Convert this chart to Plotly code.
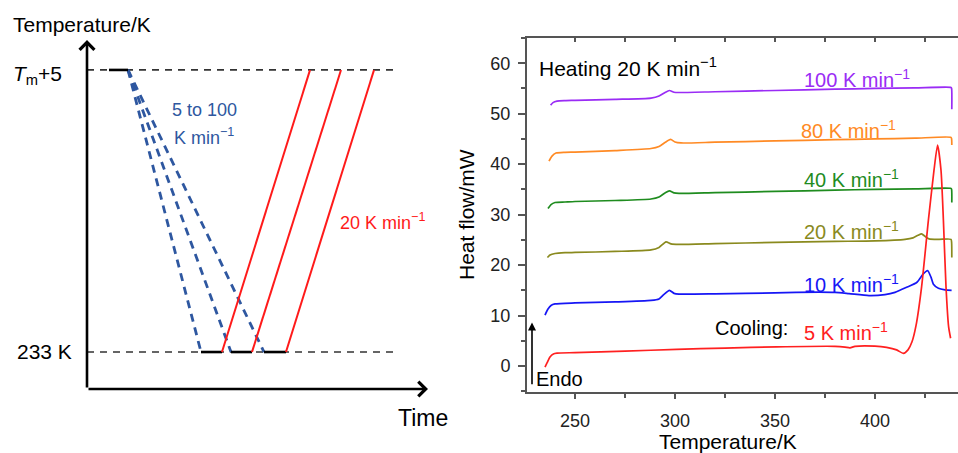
import plotly.graph_objects as go

# ---------------- Left panel: temperature programme (schematic) ----------------
# time in arbitrary units, temperature level: 0 = 233 K, 1 = Tm+5
level_low = 0.0
level_high = 1.0
ref_line_end = 30.7
hold_top = [2.2, 4.1]
cool_end = [11.4, 14.4, 17.7]      # end of cooling ramps (5 to 100 K/min)
hold_end = [13.5, 16.5, 19.9]      # end of isothermal hold at 233 K
heat_end = [22.3, 25.4, 28.7]      # end of heating ramps (20 K/min)
axis_origin = (0.0, -0.131)
axis_time_max = 34.1
axis_temp_max = 1.106

# ---------------- Right panel: DSC heating curves ----------------
T_100 = [237.8, 239, 241, 245, 250, 270, 288, 292, 295, 297.2, 299.5, 302, 320, 350, 380, 400, 420, 438.0, 438.3, 438.4]
HF_100 = [51.7, 52.2, 52.5, 52.6, 52.65, 52.85, 53.1, 53.5, 54.2, 54.6, 54.25, 54.2, 54.35, 54.6, 54.85, 55.0, 55.1, 55.2, 55.0, 50.9]

T_80 = [237.0, 238.5, 240.5, 245, 250, 270, 288, 292, 295, 297.8, 300, 303, 320, 350, 380, 400, 420, 438.0, 438.3, 438.4]
HF_80 = [40.6, 41.6, 42.2, 42.35, 42.4, 42.7, 43.1, 43.5, 44.3, 44.9, 44.4, 44.2, 44.35, 44.6, 44.85, 45.0, 45.15, 45.3, 45.0, 43.8]

T_40 = [236.5, 238, 240, 245, 250, 270, 288, 292, 295, 297.2, 299.5, 302, 320, 350, 380, 400, 420, 438.0, 438.3, 438.4]
HF_40 = [31.2, 32.0, 32.4, 32.5, 32.6, 32.8, 33.1, 33.5, 34.3, 34.7, 34.3, 34.2, 34.35, 34.6, 34.85, 35.0, 35.1, 35.2, 35.0, 32.4]

T_20 = [236.2, 237.5, 240, 245, 250, 270, 288, 292, 295.5, 298, 302, 320, 350, 380, 400, 415, 419, 421.5, 423.3, 425, 427, 432, 438.0, 438.3, 438.4]
HF_20 = [21.5, 22.0, 22.3, 22.45, 22.5, 22.7, 23.0, 23.5, 24.6, 24.2, 24.1, 24.25, 24.5, 24.7, 24.8, 25.1, 25.4, 25.9, 26.2, 25.7, 25.2, 25.1, 25.1, 24.5, 21.5]

T_10 = [235.0, 236.5, 238, 240, 250, 270, 288, 292, 294.5, 297.2, 299.5, 302, 320, 350, 372, 380, 387, 397, 405, 410, 415.8, 421, 424, 426.3, 428, 429.2, 431.7, 435, 438.3]
HF_10 = [10.1, 11.3, 12.0, 12.3, 12.5, 12.7, 13.0, 13.3, 14.2, 15.0, 14.4, 14.25, 14.3, 14.5, 14.65, 14.6, 14.35, 13.95, 14.15, 14.6, 15.6, 16.6, 18.2, 18.9, 17.6, 16.2, 15.4, 15.1, 15.0]

T_5 = [235.0, 236, 237.5, 239.2, 241, 250, 275, 300.8, 325, 350.8, 380, 385, 387.5, 390, 400, 405.8, 410.8, 414.2, 416.5, 418.5, 420.5, 423.3, 426.7, 429.5, 431.3, 433, 434.2, 435.5, 436.8, 437.8]
HF_5 = [-0.2, 0.6, 1.8, 2.4, 2.55, 2.65, 2.95, 3.3, 3.55, 3.8, 3.9, 3.75, 3.6, 3.9, 3.95, 3.7, 3.2, 2.5, 3.2, 4.8, 8.0, 15.7, 28.9, 38.8, 43.8, 38.8, 28.9, 15.7, 7.8, 5.5]

series = [
    ("100", T_100, HF_100, "#9a2cf5"),
    ("80", T_80, HF_80, "#ff8a24"),
    ("40", T_40, HF_40, "#1f8c1f"),
    ("20", T_20, HF_20, "#8a8a1e"),
    ("10", T_10, HF_10, "#1616f5"),
    ("5", T_5, HF_5, "#ff2020"),
]

x_range = [226, 441.5]
y_range = [-5.15, 65.0]
x_ticks = [250, 300, 350, 400]
y_ticks = [0, 10, 20, 30, 40, 50, 60]

FONT = "Liberation Sans, Arial, sans-serif"
W, H = 958, 453
AXC = "#555555"
BLUE_S = "#2e57a0"
RED_S = "#ff1a1a"


def px(x):
    return x / W


def py(y):
    return 1 - y / H


fig = go.Figure()

# ---- left panel traces ----
fig.add_trace(go.Scatter(x=[axis_origin[0], ref_line_end], y=[level_high, level_high], mode="lines",
                         line=dict(color="#333333", width=1.7, dash="7px,6px"),
                         xaxis="x2", yaxis="y2", hoverinfo="skip"))
fig.add_trace(go.Scatter(x=[axis_origin[0], ref_line_end], y=[level_low, level_low], mode="lines",
                         line=dict(color="#333333", width=1.7, dash="7px,6px"),
                         xaxis="x2", yaxis="y2", hoverinfo="skip"))
for ce in cool_end:
    fig.add_trace(go.Scatter(x=[hold_top[1], ce], y=[level_high, level_low], mode="lines",
                             line=dict(color=BLUE_S, width=2.8, dash="8px,6px"),
                             xaxis="x2", yaxis="y2", hoverinfo="skip"))
fig.add_trace(go.Scatter(x=hold_top, y=[level_high, level_high], mode="lines",
                         line=dict(color="black", width=2.6), xaxis="x2", yaxis="y2", hoverinfo="skip"))
for ce, he in zip(cool_end, hold_end):
    fig.add_trace(go.Scatter(x=[ce, he], y=[level_low, level_low], mode="lines",
                             line=dict(color="black", width=2.6), xaxis="x2", yaxis="y2", hoverinfo="skip"))
for he, hte in zip(hold_end, heat_end):
    fig.add_trace(go.Scatter(x=[he, hte], y=[level_low, level_high], mode="lines",
                             line=dict(color=RED_S, width=2.0), xaxis="x2", yaxis="y2", hoverinfo="skip"))

# ---- right panel traces ----
for name, T, HF, col in series:
    fig.add_trace(go.Scatter(x=T, y=HF, mode="lines", name=name + " K/min",
                             line=dict(color=col, width=1.7, shape="spline", smoothing=0.6),
                             xaxis="x", yaxis="y"))
# empty trace to carry the top (inside-ticks) axis
fig.add_trace(go.Scatter(x=[], y=[], xaxis="x3", yaxis="y", showlegend=False))

ann = []
# left-panel axes with open arrowheads
ann.append(dict(x=axis_origin[0], y=axis_temp_max, ax=axis_origin[0], ay=axis_origin[1],
                xref="x2", yref="y2", axref="x2", ayref="y2", text="", showarrow=True,
                arrowhead=4, arrowsize=1.1, arrowwidth=2.6, arrowcolor="black", standoff=0))
ann.append(dict(x=axis_time_max, y=axis_origin[1], ax=axis_origin[0], ay=axis_origin[1],
                xref="x2", yref="y2", axref="x2", ayref="y2", text="", showarrow=True,
                arrowhead=4, arrowsize=1.1, arrowwidth=2.6, arrowcolor="black", standoff=0))


def label(text, x, y, size, color="black", xanchor="left", angle=0):
    ann.append(dict(text=text, x=px(x), y=py(y), xref="paper", yref="paper", showarrow=False,
                    xanchor=xanchor, yanchor="middle", textangle=angle,
                    font=dict(family=FONT, size=size, color=color)))


label("Temperature/K", 11, 24, 21)
label("<i>T</i><sub>m</sub>+5", 11, 75, 21)
label("233 K", 15, 351, 21)
label("Time", 396, 418, 23)
label("5 to 100", 170, 110, 18, BLUE_S)
label("K min<sup>−1</sup>", 172, 136, 18, BLUE_S)
label("20 K min<sup>−1</sup>", 338, 221, 18, RED_S)

# right-panel labels (data coordinates)


def dlabel(text, x, y, size, color="black"):
    ann.append(dict(text=text, x=x, y=y, xref="x", yref="y", showarrow=False,
                    xanchor="left", yanchor="middle",
                    font=dict(family=FONT, size=size, color=color)))


dlabel("Heating 20 K min<sup>−1</sup>", 230.8, 59.2, 21)
dlabel("100 K min<sup>−1</sup>", 363.3, 56.9, 20, "#9a2cf5")
dlabel("80 K min<sup>−1</sup>", 361.8, 46.8, 20, "#ff8a24")
dlabel("40 K min<sup>−1</sup>", 363.3, 37.1, 20, "#1f8c1f")
dlabel("20 K min<sup>−1</sup>", 363.3, 26.8, 20, "#8a8a1e")
dlabel("10 K min<sup>−1</sup>", 363.3, 16.3, 20, "#1616f5")
dlabel("Cooling:", 319.0, 7.5, 20)
dlabel("5 K min<sup>−1</sup>", 363.3, 6.8, 20, "#ff2020")
dlabel("Endo", 229.3, -2.6, 20)
ann.append(dict(x=228.5, y=8.6, ax=228.5, ay=-3.9, xref="x", yref="y", axref="x", ayref="y",
                text="", showarrow=True, arrowhead=2, arrowsize=1.0, arrowwidth=1.6,
                arrowcolor="black", standoff=0))

label("Heat flow/mW", 466, 215, 21, angle=-90, xanchor="center")
label("Temperature/K", 728, 441, 21, xanchor="center")

tickfont = dict(family=FONT, size=18, color="#222222")

fig.update_layout(
    width=W, height=H,
    margin=dict(l=0, r=0, t=0, b=0),
    paper_bgcolor="white", plot_bgcolor="white",
    showlegend=False,
    annotations=ann,
    xaxis=dict(domain=[527 / W, 1.0], range=x_range, tickvals=x_ticks, ticks="outside", ticklen=5,
               tickwidth=1.5, tickcolor=AXC, showline=True, linecolor=AXC, linewidth=2,
               showgrid=False, zeroline=False, tickfont=tickfont, ticklabelstandoff=6,
               minor=dict(dtick=25, tick0=225, ticks="outside", ticklen=4, tickwidth=1.5, tickcolor=AXC),
               anchor="y"),
    xaxis3=dict(overlaying="x", side="top", range=x_range, tick0=225, dtick=25, ticks="inside",
                ticklen=4, tickwidth=1.5, tickcolor=AXC, showticklabels=False, showline=True,
                linecolor=AXC, linewidth=2, showgrid=False, zeroline=False, anchor="y"),
    yaxis=dict(domain=[61 / H, 415 / H], range=y_range, tickvals=y_ticks, ticks="outside", ticklen=7,
               tickwidth=1.5, tickcolor=AXC, showline=True, linecolor=AXC, linewidth=2,
               showgrid=False, zeroline=False, tickfont=tickfont, ticklabelstandoff=4,
               minor=dict(dtick=5, tick0=-5, ticks="outside", ticklen=4, tickwidth=1.5, tickcolor=AXC),
               anchor="x"),
    xaxis2=dict(domain=[0, 479 / W], range=[-8.7, 39.2], visible=False, anchor="y2"),
    yaxis2=dict(domain=[0, 1], range=[-0.358, 1.248], visible=False, anchor="x2"),
)

fig.write_html("out.html")
